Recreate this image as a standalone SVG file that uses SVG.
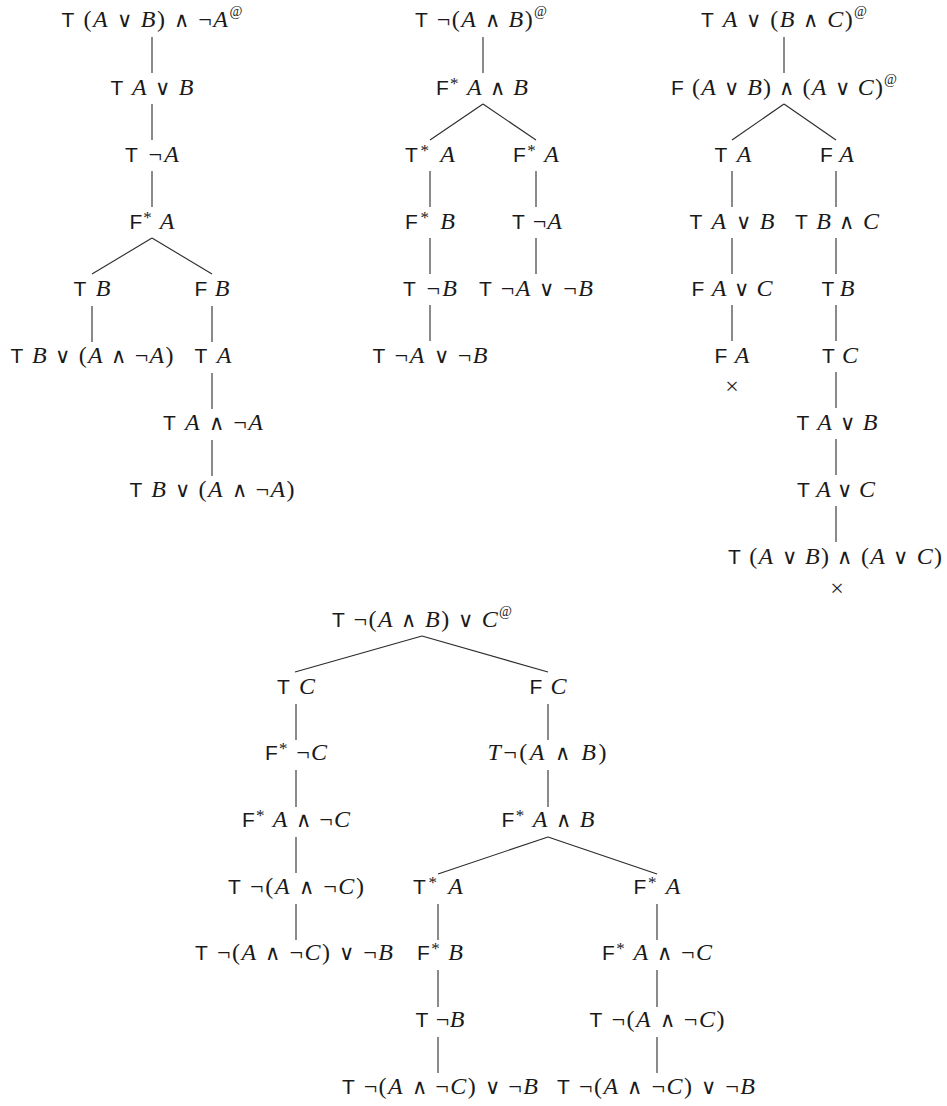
<svg xmlns="http://www.w3.org/2000/svg" width="947" height="1106" viewBox="0 0 947 1106">
<style>
.t{font-family:"Liberation Serif","DejaVu Serif",serif;font-size:24px;fill:#1a1a1a;text-anchor:middle}
.s{font-family:"Liberation Sans","DejaVu Sans",sans-serif;font-style:normal;font-size:21px}
.i{font-style:italic}
.u{font-size:14px}
.a{font-size:17px}
.o{font-family:"DejaVu Sans",sans-serif;font-weight:200;font-size:21px}
.e line{stroke:#2a2a2a;stroke-width:1.1;fill:none}
</style>
<rect width="947" height="1106" fill="#ffffff"/>
<g id="connectors" class="e">
<line x1="152" y1="37" x2="152" y2="73"/>
<line x1="152" y1="104" x2="152" y2="140"/>
<line x1="152" y1="171" x2="152" y2="207"/>
<line x1="152" y1="238" x2="92" y2="274"/>
<line x1="152" y1="238" x2="212" y2="274"/>
<line x1="92" y1="306" x2="92" y2="342"/>
<line x1="212" y1="306" x2="212" y2="342"/>
<line x1="212" y1="373" x2="212" y2="409"/>
<line x1="212" y1="440" x2="212" y2="476"/>
<line x1="483" y1="37" x2="483" y2="73"/>
<line x1="483" y1="104" x2="430" y2="140"/>
<line x1="483" y1="104" x2="536" y2="140"/>
<line x1="430" y1="171" x2="430" y2="207"/>
<line x1="536" y1="171" x2="536" y2="207"/>
<line x1="430" y1="238" x2="430" y2="274"/>
<line x1="536" y1="238" x2="536" y2="274"/>
<line x1="430" y1="305" x2="430" y2="341"/>
<line x1="784" y1="37" x2="784" y2="73"/>
<line x1="784" y1="104" x2="732" y2="140"/>
<line x1="784" y1="104" x2="836" y2="140"/>
<line x1="732" y1="171" x2="732" y2="207"/>
<line x1="732" y1="238" x2="732" y2="274"/>
<line x1="732" y1="305" x2="732" y2="341"/>
<line x1="836" y1="171" x2="836" y2="207"/>
<line x1="836" y1="238" x2="836" y2="274"/>
<line x1="836" y1="305" x2="836" y2="341"/>
<line x1="836" y1="372" x2="836" y2="408"/>
<line x1="836" y1="439" x2="836" y2="475"/>
<line x1="836" y1="506" x2="836" y2="542"/>
<line x1="422" y1="636" x2="295" y2="672"/>
<line x1="422" y1="636" x2="548" y2="672"/>
<line x1="296" y1="704" x2="296" y2="740"/>
<line x1="548" y1="704" x2="548" y2="740"/>
<line x1="296" y1="770" x2="296" y2="807"/>
<line x1="548" y1="770" x2="548" y2="807"/>
<line x1="296" y1="837" x2="296" y2="873"/>
<line x1="548" y1="837" x2="438" y2="874"/>
<line x1="548" y1="837" x2="657" y2="874"/>
<line x1="296" y1="904" x2="296" y2="940"/>
<line x1="438" y1="904" x2="438" y2="940"/>
<line x1="657" y1="904" x2="657" y2="940"/>
<line x1="438" y1="970" x2="438" y2="1007"/>
<line x1="657" y1="970" x2="657" y2="1007"/>
<line x1="438" y1="1037" x2="438" y2="1073"/>
<line x1="657" y1="1037" x2="657" y2="1073"/>
</g>
<g id="tree1">
<g id="t1n1"><text class="t" x="152" y="27" textLength="181"><tspan class="s">T</tspan> (<tspan class="i">A</tspan> <tspan class="o">∨</tspan> <tspan class="i">B</tspan>) <tspan class="o">∧</tspan> ¬<tspan class="i">A</tspan><tspan class="u" dy="-11">@</tspan></text></g>
<g id="t1n2"><text class="t" x="152" y="95" textLength="83"><tspan class="s">T</tspan> <tspan class="i">A</tspan> <tspan class="o">∨</tspan> <tspan class="i">B</tspan></text></g>
<g id="t1n3"><text class="t" x="152" y="162" textLength="54"><tspan class="s">T</tspan> ¬<tspan class="i">A</tspan></text></g>
<g id="t1n4"><text class="t" x="152" y="229" textLength="45"><tspan class="s">F</tspan><tspan class="a" dy="-6">*</tspan> <tspan class="i" dy="6">A</tspan></text></g>
<g id="t1n5"><text class="t" x="92" y="296" textLength="37"><tspan class="s">T</tspan> <tspan class="i">B</tspan></text></g>
<g id="t1n6"><text class="t" x="212" y="296" textLength="35"><tspan class="s">F</tspan> <tspan class="i">B</tspan></text></g>
<g id="t1n7"><text class="t" x="92" y="363" textLength="163"><tspan class="s">T</tspan> <tspan class="i">B</tspan> <tspan class="o">∨</tspan> (<tspan class="i">A</tspan> <tspan class="o">∧</tspan> ¬<tspan class="i">A</tspan>)</text></g>
<g id="t1n8"><text class="t" x="213" y="363" textLength="37"><tspan class="s">T</tspan> <tspan class="i">A</tspan></text></g>
<g id="t1n9"><text class="t" x="213" y="430" textLength="100"><tspan class="s">T</tspan> <tspan class="i">A</tspan> <tspan class="o">∧</tspan> ¬<tspan class="i">A</tspan></text></g>
<g id="t1n10"><text class="t" x="212" y="497" textLength="165"><tspan class="s">T</tspan> <tspan class="i">B</tspan> <tspan class="o">∨</tspan> (<tspan class="i">A</tspan> <tspan class="o">∧</tspan> ¬<tspan class="i">A</tspan>)</text></g>
</g>
<g id="tree2">
<g id="t2n1"><text class="t" x="481" y="27" textLength="132"><tspan class="s">T</tspan> ¬(<tspan class="i">A</tspan> <tspan class="o">∧</tspan> <tspan class="i">B</tspan>)<tspan class="u" dy="-11">@</tspan></text></g>
<g id="t2n2"><text class="t" x="482" y="95" textLength="92"><tspan class="s">F</tspan><tspan class="a" dy="-6">*</tspan> <tspan class="i" dy="6">A</tspan> <tspan class="o">∧</tspan> <tspan class="i">B</tspan></text></g>
<g id="t2n3"><text class="t" x="430" y="162" textLength="50"><tspan class="s">T</tspan><tspan class="a" dy="-6">*</tspan> <tspan class="i" dy="6">A</tspan></text></g>
<g id="t2n4"><text class="t" x="536" y="162" textLength="46"><tspan class="s">F</tspan><tspan class="a" dy="-6">*</tspan> <tspan class="i" dy="6">A</tspan></text></g>
<g id="t2n5"><text class="t" x="430" y="229" textLength="50"><tspan class="s">F</tspan><tspan class="a" dy="-6">*</tspan> <tspan class="i" dy="6">B</tspan></text></g>
<g id="t2n6"><text class="t" x="537" y="229" textLength="50"><tspan class="s">T</tspan> ¬<tspan class="i">A</tspan></text></g>
<g id="t2n7"><text class="t" x="430" y="296" textLength="54"><tspan class="s">T</tspan> ¬<tspan class="i">B</tspan></text></g>
<g id="t2n8"><text class="t" x="536" y="296" textLength="114"><tspan class="s">T</tspan> ¬<tspan class="i">A</tspan> <tspan class="o">∨</tspan> ¬<tspan class="i">B</tspan></text></g>
<g id="t2n9"><text class="t" x="430" y="363" textLength="115"><tspan class="s">T</tspan> ¬<tspan class="i">A</tspan> <tspan class="o">∨</tspan> ¬<tspan class="i">B</tspan></text></g>
</g>
<g id="tree3">
<g id="t3n1"><text class="t" x="784" y="27" textLength="166"><tspan class="s">T</tspan> <tspan class="i">A</tspan> <tspan class="o">∨</tspan> (<tspan class="i">B</tspan> <tspan class="o">∧</tspan> <tspan class="i">C</tspan>)<tspan class="u" dy="-11">@</tspan></text></g>
<g id="t3n2"><text class="t" x="784" y="95" textLength="226"><tspan class="s">F</tspan> (<tspan class="i">A</tspan> <tspan class="o">∨</tspan> <tspan class="i">B</tspan>) <tspan class="o">∧</tspan> (<tspan class="i">A</tspan> <tspan class="o">∨</tspan> <tspan class="i">C</tspan>)<tspan class="u" dy="-11">@</tspan></text></g>
<g id="t3n3"><text class="t" x="733" y="162" textLength="37"><tspan class="s">T</tspan> <tspan class="i">A</tspan></text></g>
<g id="t3n4"><text class="t" x="837" y="162" textLength="34"><tspan class="s">F</tspan> <tspan class="i">A</tspan></text></g>
<g id="t3n5"><text class="t" x="732" y="229" textLength="85"><tspan class="s">T</tspan> <tspan class="i">A</tspan> <tspan class="o">∨</tspan> <tspan class="i">B</tspan></text></g>
<g id="t3n6"><text class="t" x="837" y="229" textLength="84"><tspan class="s">T</tspan> <tspan class="i">B</tspan> <tspan class="o">∧</tspan> <tspan class="i">C</tspan></text></g>
<g id="t3n7"><text class="t" x="732" y="296" textLength="81"><tspan class="s">F</tspan> <tspan class="i">A</tspan> <tspan class="o">∨</tspan> <tspan class="i">C</tspan></text></g>
<g id="t3n8"><text class="t" x="838" y="296" textLength="33"><tspan class="s">T</tspan> <tspan class="i">B</tspan></text></g>
<g id="t3n9"><text class="t" x="732" y="363" textLength="35"><tspan class="s">F</tspan> <tspan class="i">A</tspan></text></g>
<g id="t3x1"><text class="t" x="732" y="394">×</text></g>
<g id="t3n10"><text class="t" x="840" y="363" textLength="36"><tspan class="s">T</tspan> <tspan class="i">C</tspan></text></g>
<g id="t3n11"><text class="t" x="837" y="430" textLength="81"><tspan class="s">T</tspan> <tspan class="i">A</tspan> <tspan class="o">∨</tspan> <tspan class="i">B</tspan></text></g>
<g id="t3n12"><text class="t" x="836" y="497" textLength="78"><tspan class="s">T</tspan> <tspan class="i">A</tspan> <tspan class="o">∨</tspan> <tspan class="i">C</tspan></text></g>
<g id="t3n13"><text class="t" x="835" y="564" textLength="214"><tspan class="s">T</tspan> (<tspan class="i">A</tspan> <tspan class="o">∨</tspan> <tspan class="i">B</tspan>) <tspan class="o">∧</tspan> (<tspan class="i">A</tspan> <tspan class="o">∨</tspan> <tspan class="i">C</tspan>)</text></g>
<g id="t3x2"><text class="t" x="837" y="596">×</text></g>
</g>
<g id="tree4">
<g id="t4n1"><text class="t" x="422" y="627" textLength="180"><tspan class="s">T</tspan> ¬(<tspan class="i">A</tspan> <tspan class="o">∧</tspan> <tspan class="i">B</tspan>) <tspan class="o">∨</tspan> <tspan class="i">C</tspan><tspan class="u" dy="-11">@</tspan></text></g>
<g id="t4n2"><text class="t" x="296" y="694" textLength="38"><tspan class="s">T</tspan> <tspan class="i">C</tspan></text></g>
<g id="t4n3"><text class="t" x="548" y="694" textLength="37"><tspan class="s">F</tspan> <tspan class="i">C</tspan></text></g>
<g id="t4n4"><text class="t" x="296" y="760" textLength="62"><tspan class="s">F</tspan><tspan class="a" dy="-6">*</tspan> <tspan dy="6">¬</tspan><tspan class="i">C</tspan></text></g>
<g id="t4n5"><text class="t" x="547" y="760" textLength="119"><tspan class="i">T</tspan>¬(<tspan class="i">A</tspan> <tspan class="o">∧</tspan> <tspan class="i">B</tspan>)</text></g>
<g id="t4n6"><text class="t" x="296" y="827" textLength="108"><tspan class="s">F</tspan><tspan class="a" dy="-6">*</tspan> <tspan class="i" dy="6">A</tspan> <tspan class="o">∧</tspan> ¬<tspan class="i">C</tspan></text></g>
<g id="t4n7"><text class="t" x="548" y="827" textLength="93"><tspan class="s">F</tspan><tspan class="a" dy="-6">*</tspan> <tspan class="i" dy="6">A</tspan> <tspan class="o">∧</tspan> <tspan class="i">B</tspan></text></g>
<g id="t4n8"><text class="t" x="296" y="894" textLength="136"><tspan class="s">T</tspan> ¬(<tspan class="i">A</tspan> <tspan class="o">∧</tspan> ¬<tspan class="i">C</tspan>)</text></g>
<g id="t4n9"><text class="t" x="438" y="894" textLength="50"><tspan class="s">T</tspan><tspan class="a" dy="-6">*</tspan> <tspan class="i" dy="6">A</tspan></text></g>
<g id="t4n10"><text class="t" x="657" y="894" textLength="47"><tspan class="s">F</tspan><tspan class="a" dy="-6">*</tspan> <tspan class="i" dy="6">A</tspan></text></g>
<g id="t4n11"><text class="t" x="294" y="960" textLength="198"><tspan class="s">T</tspan> ¬(<tspan class="i">A</tspan> <tspan class="o">∧</tspan> ¬<tspan class="i">C</tspan>) <tspan class="o">∨</tspan> ¬<tspan class="i">B</tspan></text></g>
<g id="t4n12"><text class="t" x="440" y="960" textLength="46"><tspan class="s">F</tspan><tspan class="a" dy="-6">*</tspan> <tspan class="i" dy="6">B</tspan></text></g>
<g id="t4n13"><text class="t" x="657" y="960" textLength="110"><tspan class="s">F</tspan><tspan class="a" dy="-6">*</tspan> <tspan class="i" dy="6">A</tspan> <tspan class="o">∧</tspan> ¬<tspan class="i">C</tspan></text></g>
<g id="t4n14"><text class="t" x="440" y="1027" textLength="49"><tspan class="s">T</tspan> ¬<tspan class="i">B</tspan></text></g>
<g id="t4n15"><text class="t" x="657" y="1027" textLength="135"><tspan class="s">T</tspan> ¬(<tspan class="i">A</tspan> <tspan class="o">∧</tspan> ¬<tspan class="i">C</tspan>)</text></g>
<g id="t4n16"><text class="t" x="440" y="1094" textLength="196"><tspan class="s">T</tspan> ¬(<tspan class="i">A</tspan> <tspan class="o">∧</tspan> ¬<tspan class="i">C</tspan>) <tspan class="o">∨</tspan> ¬<tspan class="i">B</tspan></text></g>
<g id="t4n17"><text class="t" x="656" y="1094" textLength="198"><tspan class="s">T</tspan> ¬(<tspan class="i">A</tspan> <tspan class="o">∧</tspan> ¬<tspan class="i">C</tspan>) <tspan class="o">∨</tspan> ¬<tspan class="i">B</tspan></text></g>
</g>
</svg>
